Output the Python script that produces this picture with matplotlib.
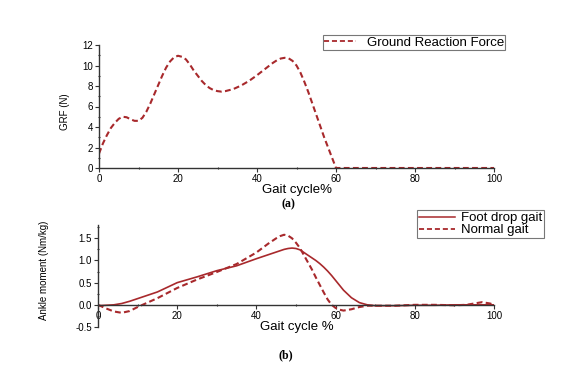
import matplotlib
matplotlib.use("Agg")
import matplotlib.pyplot as plt
from matplotlib.lines import Line2D

# ---- data ----
grf_x = [0, 1, 2, 3, 4, 5, 6, 7, 8, 9, 10, 11, 12, 13, 14, 15, 16, 17, 18, 19, 20, 21, 22, 23, 24,
         25, 26, 27, 28, 29, 30, 31, 32, 33, 34, 36, 38, 40, 42, 44, 45, 46, 47, 48, 49, 50,
         51, 52, 53, 54, 55, 56, 57, 58, 59, 60, 62, 100]
grf_y = [1.4, 2.4, 3.2, 3.9, 4.4, 4.8, 5.0, 4.95, 4.75, 4.6, 4.6, 4.9, 5.5, 6.3, 7.2, 8.1, 9.0, 9.8, 10.4, 10.8, 10.95, 10.85, 10.6, 10.1, 9.5,
         9.0, 8.5, 8.1, 7.8, 7.6, 7.5, 7.45, 7.5, 7.6, 7.7, 8.05, 8.5, 9.05, 9.65, 10.25, 10.5, 10.68, 10.75, 10.7, 10.45, 10.0,
         9.3, 8.4, 7.4, 6.3, 5.2, 4.1, 3.0, 2.0, 1.0, 0.0, 0.0, 0.0]

mom_x = [0, 2, 4, 6, 8, 10, 12, 15, 20, 25, 30, 35, 40, 43, 45, 46, 47, 48, 49, 50, 51, 52,
         53, 54, 55, 56, 57, 58, 59, 60, 61, 62, 64, 66, 68, 70, 75, 80, 85, 90, 93, 95, 97, 99, 100]
foot_drop = [-0.02, -0.01, 0.0, 0.03, 0.08, 0.14, 0.2, 0.29, 0.5, 0.63, 0.77, 0.88, 1.04, 1.13, 1.19, 1.22, 1.25, 1.27, 1.28, 1.27, 1.24, 1.18,
             1.12, 1.06, 1.0, 0.93, 0.85, 0.76, 0.66, 0.55, 0.44, 0.33, 0.16, 0.05, 0.0, -0.02, -0.02, -0.01, -0.01, 0.0, 0.0, 0.0, 0.0, 0.0, 0.0]
normal = [0.0, -0.08, -0.15, -0.18, -0.14, -0.05, 0.03, 0.15, 0.38, 0.57, 0.74, 0.92, 1.18, 1.38, 1.5, 1.55, 1.58, 1.56, 1.5, 1.4, 1.28, 1.12,
          0.96, 0.8, 0.62, 0.45, 0.28, 0.12, 0.0, -0.07, -0.11, -0.13, -0.1, -0.05, -0.02, -0.02, -0.02, 0.0, 0.0, -0.01, 0.0, 0.03, 0.06, 0.03, 0.0]

grf_label = "Ground Reaction Force"
series_labels = ["Foot drop gait", "Normal gait"]
x_ticks = [0, 20, 40, 60, 80, 100]
grf_ticks = [0, 2, 4, 6, 8, 10, 12]
mom_ticks = [-0.5, 0.0, 0.5, 1.0, 1.5]

# ---- style ----
W, H = 587, 370
color = "#A8292C"
plt.rcParams["font.family"] = ["Liberation Sans", "DejaVu Sans"]
fig = plt.figure(figsize=(W / 100, H / 100), dpi=100)


def fx(px):
    return px / W


def fy(py):
    return 1 - py / H


def style_axes(ax):
    for s in ["top", "right"]:
        ax.spines[s].set_visible(False)
    for s in ["left", "bottom"]:
        ax.spines[s].set_linewidth(1.0)
        ax.spines[s].set_color("#333333")
    ax.tick_params(which="major", direction="out", length=3, width=0.8, labelsize=7,
                   color="#333333", pad=1.5)
    ax.tick_params(which="minor", direction="inout", length=2, width=0.8, color="#333333")
    ax.set_facecolor("none")


# top panel
ax1 = fig.add_axes([fx(99), fy(168), fx(494) - fx(99), fy(45) - fy(168)])
ax1.plot(grf_x, grf_y, color=color, lw=1.5, ls=(0, (2.8, 1.6)))
ax1.set_xlim(0, 100)
ax1.set_ylim(0, 12)
ax1.set_xticks(x_ticks)
ax1.set_xticks([10, 30, 50, 70, 90], minor=True)
ax1.set_yticks(grf_ticks)
ax1.set_yticks([1, 3, 5, 7, 9, 11], minor=True)
style_axes(ax1)

# bottom panel
ax2 = fig.add_axes([fx(98), fy(327), fx(494) - fx(98), fy(225) - fy(327)])
ax2.plot(mom_x, foot_drop, color=color, lw=1.2)
ax2.plot(mom_x, normal, color=color, lw=1.5, ls=(0, (2.8, 1.6)))
ax2.set_xlim(0, 100)
ax2.set_ylim(-0.5, 1.8)
ax2.spines["bottom"].set_position(("data", 0))
ax2.set_xticks(x_ticks)
ax2.set_xticks([10, 30, 50, 70, 90], minor=True)
ax2.set_yticks(mom_ticks)
ax2.set_yticklabels([f"{v:.1f}" for v in mom_ticks])
ax2.set_yticks([-0.25, 0.25, 0.75, 1.25, 1.75], minor=True)
style_axes(ax2)

# labels
fig.text(fx(297), fy(190), "Gait cycle%", ha="center", va="center", fontsize=9.5)
fig.text(fx(297), fy(327), "Gait cycle %", ha="center", va="center", fontsize=9.5)
fig.text(fx(65), fy(112), "GRF (N)", rotation=90, ha="center", va="center", fontsize=7)
fig.text(fx(44), fy(270), "Ankle moment (Nm/kg)", rotation=90, ha="center", va="center", fontsize=7)
fig.text(fx(288), fy(204), "(a)", ha="center", va="center", fontsize=8.5,
         family=["Liberation Serif", "DejaVu Serif"], weight="bold")
fig.text(fx(286), fy(355), "(b)", ha="center", va="center", fontsize=8.5,
         family=["Liberation Serif", "DejaVu Serif"], weight="bold")

# legends
h1 = [Line2D([], [], color=color, lw=1.3, ls=(0, (2.8, 1.6)))]
leg1 = fig.legend(h1, [grf_label], loc="upper left", bbox_to_anchor=(fx(323), fy(35)),
                  fontsize=9.5, frameon=True, fancybox=False, borderpad=0.1,
                  handlelength=2.4, handletextpad=0.8, borderaxespad=0)
leg1.get_frame().set_edgecolor("#555555")
leg1.get_frame().set_linewidth(0.8)

h2 = [Line2D([], [], color=color, lw=1.1),
      Line2D([], [], color=color, lw=1.3, ls=(0, (2.8, 1.6)))]
leg2 = fig.legend(h2, series_labels, loc="upper left", bbox_to_anchor=(fx(417), fy(210)),
                  fontsize=9.5, frameon=True, fancybox=False, borderpad=0.15,
                  handlelength=2.7, handletextpad=0.5, labelspacing=0.0, borderaxespad=0)
leg2.get_frame().set_edgecolor("#555555")
leg2.get_frame().set_linewidth(0.8)

fig.savefig("out.png", dpi=100)
